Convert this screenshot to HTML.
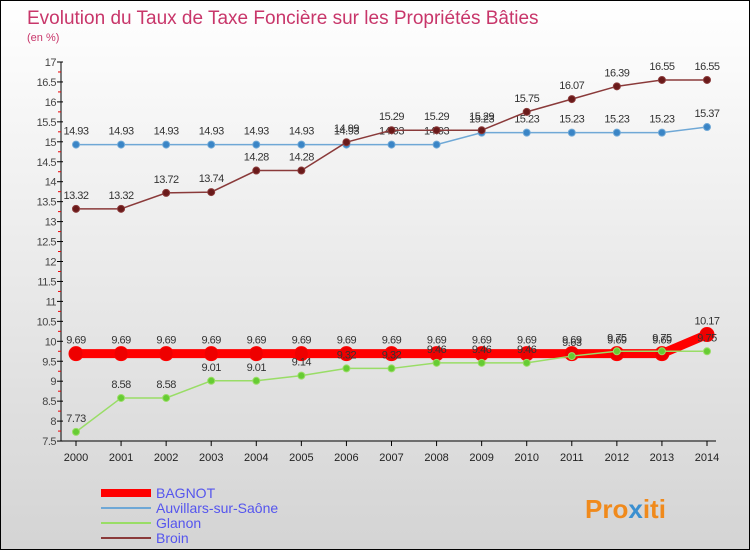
<!DOCTYPE html>
<html><head><meta charset="utf-8"><style>
body{margin:0}
#c{width:750px;height:550px;position:relative;font-family:"Liberation Sans",sans-serif;background:linear-gradient(#fff,#d4d4d4);border:1px solid #000;box-sizing:border-box;overflow:hidden}
</style></head><body>
<div id="c">
<svg id="s" width="750" height="550" style="position:absolute;left:0;top:0">
<text x="26" y="23" font-size="19" fill="#c8366a">Evolution du Taux de Taxe Foncière sur les Propriétés Bâties</text>
<text x="26" y="40" font-size="11" fill="#c8366a">(en %)</text>
<g id="axes"></g><g id="series"></g><g id="legend"></g>
<text x="584" y="517" font-size="26" font-weight="bold" fill="#f08a1c">Pro<tspan fill="#3a8fd0">x</tspan>iti</text>
</svg>
</div>
<script>
const years=[2000,2001,2002,2003,2004,2005,2006,2007,2008,2009,2010,2011,2012,2013,2014];
const bagnot=[9.69,9.69,9.69,9.69,9.69,9.69,9.69,9.69,9.69,9.69,9.69,9.69,9.69,9.69,10.17];
const auvillars=[14.93,14.93,14.93,14.93,14.93,14.93,14.93,14.93,14.93,15.23,15.23,15.23,15.23,15.23,15.37];
const glanon=[7.73,8.58,8.58,9.01,9.01,9.14,9.32,9.32,9.46,9.46,9.46,9.63,9.75,9.75,9.75];
const broin=[13.32,13.32,13.72,13.74,14.28,14.28,14.99,15.29,15.29,15.29,15.75,16.07,16.39,16.55,16.55];
const yTicks=[7.5,8,8.5,9,9.5,10,10.5,11,11.5,12,12.5,13,13.5,14,14.5,15,15.5,16,16.5,17];
const NS="http://www.w3.org/2000/svg";
const X=i=>75+i*(631/14), Y=v=>61+(17-v)*39.9;
const AXY=Y(7.5);
function mk(p,t,a){const e=document.createElementNS(NS,t);for(const k in a)e.setAttribute(k,a[k]);p.appendChild(e);return e;}
const ax=document.getElementById('axes');
let l=mk(ax,'line',{x1:60,y1:61,x2:60,y2:AXY,stroke:'#000'});


l=mk(ax,'line',{x1:60,y1:AXY,x2:715,y2:AXY,stroke:'#000'});


yTicks.forEach(v=>{
 mk(ax,'line',{x1:56,y1:Y(v),x2:62,y2:Y(v),stroke:'#000'});
 if(v<17)mk(ax,'line',{x1:57,y1:Y(v+0.25),x2:60,y2:Y(v+0.25),stroke:'#e00'});
 const t=mk(ax,'text',{x:55,y:Y(v)+4,'font-size':11,'text-anchor':'end',fill:'#444','letter-spacing':'-0.5'});
 t.textContent=v;
 
 
});
years.forEach((yr,i)=>{
 mk(ax,'line',{x1:X(i),y1:AXY,x2:X(i),y2:AXY+5,stroke:'#000'});
 const t=mk(ax,'text',{x:X(i),y:AXY+20,'font-size':11,'text-anchor':'middle',fill:'#222'});
 t.textContent=yr;
 
 
});
const sg=document.getElementById('series');
function draw(data,name,col,w,r,dot){
 const g=mk(sg,'g',{});
 
 
 mk(g,'polyline',{points:data.map((v,i)=>X(i)+','+Y(v)).join(' '),fill:'none',stroke:col,'stroke-width':w});
 data.forEach((v,i)=>{
  const c=mk(g,'circle',{cx:X(i),cy:Y(v),r:r,fill:dot,stroke:col,'stroke-width':1});
  
  
  const t=mk(g,'text',{x:X(i),y:Y(v)-10,'font-size':11,'text-anchor':'middle',fill:'#333','letter-spacing':'-0.5'});
  t.textContent=v;
  
  
 });
}
draw(auvillars,'auvillars','#6fa8d6',1.5,3.5,'#3a85c6');
draw(broin,'broin','#8a3a3a',1.5,3.5,'#6a1a1a');
draw(bagnot,'bagnot','#f00',9,7,'#e00');
draw(glanon,'glanon','#99dd66',1.5,3.5,'#66cc33');
const lg=document.getElementById('legend');
[['BAGNOT','#f00',8],['Auvillars-sur-Saône','#6fa8d6',2],['Glanon','#99dd66',2],['Broin','#8a3a3a',2]].forEach((d,i)=>{
 const y=492+i*15;
 const g=mk(lg,'g',{});
 
 
 mk(g,'line',{x1:100,y1:y,x2:150,y2:y,stroke:d[1],'stroke-width':d[2]});
 const t=mk(g,'text',{x:155,y:y+5,'font-size':14,fill:'#5555ee'});
 t.textContent=d[0];
});
</script>
</body></html>
